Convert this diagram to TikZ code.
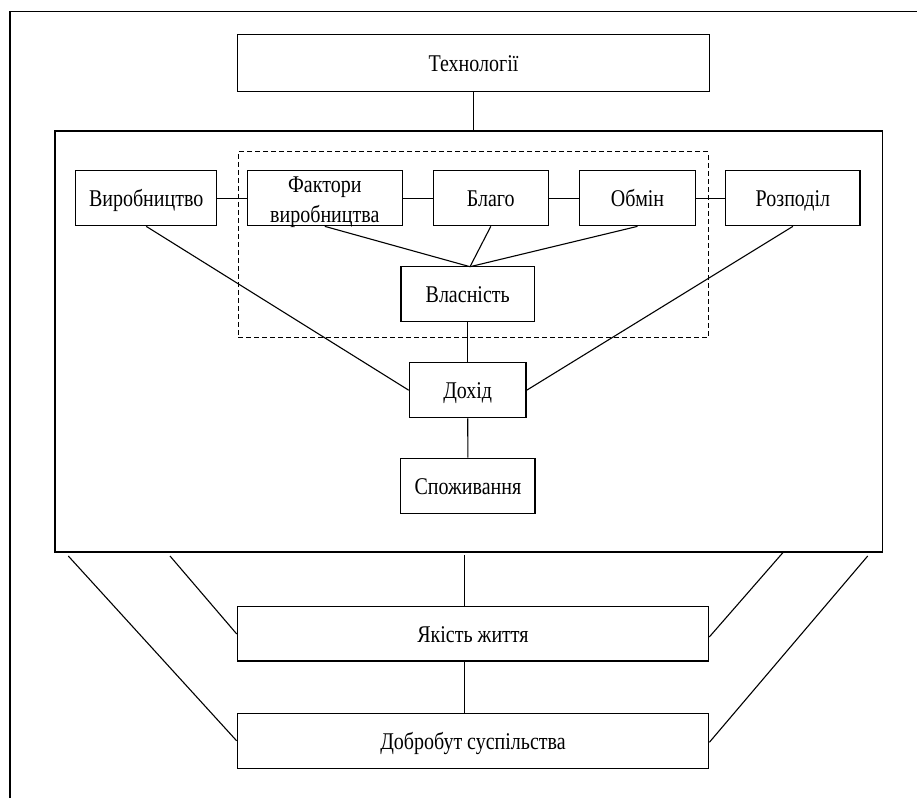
\documentclass[tikz,border=0pt]{standalone}
\usepackage{fontspec}
\setmainfont{Liberation Serif}
\newfontfamily\tallserif[FakeStretch=0.833]{Liberation Serif}
\begin{document}
\begin{tikzpicture}[x=1pt,y=-1pt,
  boxbase/.style={draw, line width=1.3pt, inner sep=0pt, align=center, minimum height=55pt, font=\tallserif\fontsize{24}{30}\selectfont},
  box/.style={boxbase, text height=16.5pt, text depth=0pt},
  frame/.style={draw, line width=1.3pt, inner sep=0pt},
  group/.style={draw, line width=1.1pt, dash pattern=on 5pt off 3pt, inner sep=0pt},
  conn/.style={line width=1.1pt},
]
\useasboundingbox (0,0) rectangle (917,798);
% outer frame (open at right and bottom)
\coordinate (fbl) at (10,798);
\coordinate (ftl) at (10,11.4);
\coordinate (ftr) at (917,11.4);
\draw[line width=1.4pt] (fbl) -- (ftl) -- (ftr);

\node[frame, minimum width=827.7pt, minimum height=421pt] (main) at (468.85,341.5) {};
\node[group, minimum width=470pt, minimum height=185.8pt] (grp) at (473.3,244.6) {};

\node[box, minimum width=472.5pt, minimum height=57pt] (tech) at (473.5,63) {Технології};
\node[box, minimum width=141pt] (vyr) at (146.2,198.2) {Виробництво};
\node[boxbase, minimum width=155pt, text height=49.5pt, text depth=0pt] (fakt) at (324.8,198.2) {Фактори\\виробництва};
\node[box, minimum width=115pt] (blago) at (490.8,198.2) {Благо};
\node[box, minimum width=116.4pt] (obmin) at (637.5,198.2) {Обмін};
\node[box, minimum width=134.3pt] (rozp) at (792.9,198.2) {Розподіл};
\node[box, minimum width=133.3pt] (vlas) at (467.7,294.2) {Власність};
\node[box, minimum width=116.7pt] (doh) at (467.7,390.2) {Дохід};
\node[box, minimum width=134.3pt] (spoz) at (467.9,485.8) {Споживання};
\node[box, minimum width=471.4pt, minimum height=54.3pt] (yak) at (473,633.9) {Якість життя};
\node[box, minimum width=471.4pt] (dobr) at (473,740.8) {Добробут суспільства};

% connectors inside
\draw[conn] (tech.south) -- (tech.south |- main.north);
\draw[conn] (vyr.east) -- (fakt.west);
\draw[conn] (fakt.east) -- (blago.west);
\draw[conn] (blago.east) -- (obmin.west);
\draw[conn] (obmin.east) -- (rozp.west);
\coordinate (vtop) at (470,266.7);
\draw[conn] (fakt.south) -- (vtop);
\draw[conn] (blago.south) -- (vtop);
\draw[conn] (obmin.south) -- (vtop);
\draw[conn] (vyr.south) -- (doh.west);
\draw[conn] (rozp.south) -- (doh.east);
\draw[conn] (vlas.south) -- (doh.north);
\draw[conn] (doh.south) -- (spoz.north);

% connectors below the main box
\coordinate (b1) at (68.3,556);
\coordinate (b2) at (170,556);
\coordinate (b3) at (464.7,555);
\coordinate (b4) at (783,552.5);
\coordinate (b5) at (867.7,556);
\draw[conn] (b1) -- (dobr.west);
\draw[conn] (b2) -- (yak.west);
\draw[conn] (b3) -- (b3 |- yak.north);
\draw[conn] (b3 |- yak.south) -- (b3 |- dobr.north);
\draw[conn] (b4) -- ([yshift=-3pt]yak.east);
\draw[conn] (b5) -- ([yshift=-1.5pt]dobr.east);
\end{tikzpicture}
\end{document}
